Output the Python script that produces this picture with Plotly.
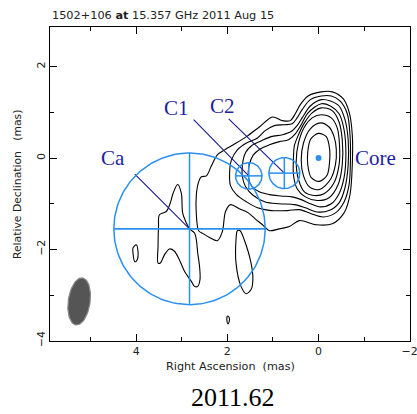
import numpy as np
import plotly.graph_objects as go

# ---- contour polylines: (RA offset, Dec offset) in mas ----
lev1 = [(-0.06, 1.45), (-0.30, 1.45), (-0.54, 1.30), (-0.67, 1.01), (-0.74, 0.51), (-0.74, -0.15),
        (-0.69, -0.80), (-0.56, -1.20), (-0.30, -1.44), (0.05, -1.46), (0.42, -1.37), (0.64, -1.50),
        (0.86, -1.55), (1.08, -1.59), (1.23, -1.46), (1.39, -1.33), (1.54, -1.20), (1.74, -1.11),
        (1.93, -1.02), (2.04, -1.17), (2.11, -1.61), (2.22, -1.81), (2.39, -1.74), (2.54, -1.65),
        (2.63, -1.59), (2.68, -1.24), (2.68, -0.80), (2.63, -0.52), (2.57, -0.41), (2.46, -0.39),
        (2.35, -0.17), (2.22, 0.07), (2.06, 0.18), (1.91, 0.27), (1.58, 0.47), (1.30, 0.68),
        (1.01, 0.90), (0.79, 0.82), (0.62, 0.82), (0.51, 0.97), (0.40, 1.17), (0.23, 1.36), (-0.06, 1.45)]
lev2 = [(-0.06, 1.36), (-0.28, 1.36), (-0.47, 1.25), (-0.63, 0.97), (-0.69, 0.51), (-0.70, -0.04),
        (-0.67, -0.58), (-0.56, -0.96), (-0.37, -1.20), (-0.10, -1.29), (0.16, -1.22), (0.42, -1.13),
        (0.68, -1.15), (1.04, -1.15), (1.34, -1.09), (1.58, -0.96), (1.80, -0.80), (1.93, -0.61),
        (1.95, -0.30), (1.91, -0.04), (1.78, 0.18), (1.58, 0.33), (1.34, 0.44), (1.17, 0.60),
        (0.97, 0.71), (0.75, 0.73), (0.58, 0.75), (0.47, 0.88), (0.36, 1.06), (0.18, 1.28), (-0.06, 1.36)]
lev3 = [(-0.06, 1.28), (-0.26, 1.25), (-0.45, 1.14), (-0.58, 0.84), (-0.65, 0.40), (-0.65, -0.15),
        (-0.58, -0.65), (-0.45, -0.98), (-0.23, -1.15), (0.03, -1.18), (0.29, -1.09), (0.53, -1.02),
        (0.86, -1.00), (1.17, -0.96), (1.43, -0.82), (1.60, -0.63), (1.67, -0.41), (1.67, -0.15),
        (1.60, 0.12), (1.47, 0.27), (1.25, 0.38), (1.04, 0.47), (0.79, 0.51), (0.60, 0.58),
        (0.47, 0.71), (0.36, 0.88), (0.18, 1.14), (-0.06, 1.28)]
lev4 = [(-0.06, 1.19), (-0.26, 1.14), (-0.45, 0.97), (-0.56, 0.62), (-0.60, 0.07), (-0.56, -0.43),
        (-0.45, -0.78), (-0.28, -1.00), (-0.04, -1.07), (0.18, -1.00), (0.38, -0.91), (0.58, -0.85),
        (0.82, -0.83), (1.08, -0.80), (1.30, -0.74), (1.47, -0.61), (1.54, -0.41), (1.52, -0.15),
        (1.43, 0.07), (1.28, 0.20), (1.08, 0.29), (0.86, 0.36), (0.66, 0.40), (0.51, 0.53),
        (0.38, 0.73), (0.23, 0.99), (-0.06, 1.19)]
lev5 = [(-0.06, 1.10), (-0.30, 1.04), (-0.45, 0.79), (-0.52, 0.40), (-0.52, -0.15), (-0.43, -0.58),
        (-0.23, -0.87), (0.03, -0.93), (0.29, -0.85), (0.47, -0.67), (0.55, -0.37), (0.55, 0.01),
        (0.53, 0.27), (0.44, 0.51), (0.31, 0.77), (0.14, 0.99), (-0.06, 1.10)]
lev6 = [(-0.06, 0.95), (-0.28, 0.88), (-0.41, 0.66), (-0.46, 0.29), (-0.45, -0.15), (-0.34, -0.54),
        (-0.12, -0.78), (0.09, -0.82), (0.31, -0.74), (0.44, -0.47), (0.49, -0.08), (0.44, 0.33),
        (0.31, 0.68), (0.14, 0.88), (-0.06, 0.95)]
lev7 = [(-0.04, 0.77), (-0.23, 0.68), (-0.34, 0.47), (-0.39, 0.18), (-0.37, -0.15), (-0.26, -0.47),
        (-0.02, -0.69), (0.20, -0.63), (0.33, -0.39), (0.38, -0.04), (0.33, 0.33), (0.18, 0.64),
        (-0.04, 0.77)]
lev8 = [(0.00, 0.54), (-0.17, 0.47), (-0.245, 0.18), (-0.245, -0.04), (-0.19, -0.37), (-0.02, -0.51),
        (0.16, -0.43), (0.236, -0.15), (0.236, 0.14), (0.17, 0.42), (0.00, 0.54)]
island_a = [(3.09, -0.58), (3.01, -0.77), (2.98, -1.20), (2.90, -1.42), (2.83, -1.55), (2.72, -1.64),
            (2.68, -1.79), (2.65, -2.08), (2.61, -2.37), (2.60, -2.66), (2.65, -2.81), (2.72, -2.81),
            (2.79, -2.70), (2.94, -2.48), (3.05, -2.23), (3.16, -2.04), (3.27, -1.99), (3.38, -2.12),
            (3.47, -2.30), (3.52, -2.30), (3.52, -1.93), (3.51, -1.50), (3.49, -1.24), (3.34, -1.17),
            (3.25, -0.98), (3.19, -0.77), (3.09, -0.58)]
island_b = [(1.78, -1.59), (1.81, -1.79), (1.81, -2.30), (1.70, -2.81), (1.59, -2.97), (1.48, -2.88),
            (1.44, -2.66), (1.48, -2.30), (1.63, -1.79), (1.72, -1.59), (1.78, -1.59)]
island_c = [(4.07, -1.97), (4.00, -1.90), (3.96, -2.04), (3.98, -2.23), (4.03, -2.27), (4.07, -2.08),
            (4.07, -1.97)]
island_d = [(2.00, -3.46), (1.96, -3.49), (1.96, -3.58), (1.99, -3.63), (2.01, -3.56), (2.01, -3.49),
            (2.00, -3.46)]
contours = [lev1, lev2, lev3, lev4, lev5, lev6, lev7, lev8, island_a, island_b, island_c, island_d]

# ---- model-fit components ----
comp_names = ["Ca", "C1", "C2"]
comp_ra = [2.83, 1.53, 0.75]
comp_dec = [-1.55, -0.39, -0.33]
comp_radius = [1.66, 0.29, 0.34]
leader_ra = [4.03, 2.74, 1.97]
leader_dec = [-0.35, 0.84, 0.86]
label_text = ["Ca", "C1", "C2", "Core"]
label_ra = [4.51, 3.11, 2.11, -1.24]
label_dec = [0.0, 1.10, 1.14, 0.0]
core_ra, core_dec = [0.0], [0.0]

# ---- restoring beam ----
beam_ra, beam_dec = 5.25, -3.14
beam_major, beam_minor, beam_pa = 0.52, 0.24, -8.0

x_range = [5.89, -2.006]
y_range = [-4.006, 2.87]
epoch = "2011.62"
title = "1502+106 <b>at</b> 15.357 GHz 2011 Aug 15"

CIRC = "#2b8ff0"
NAVY = "#1a1a8c"
LABEL = "#1e1ea2"

fig = go.Figure()

# beam
t = np.linspace(0, 2 * np.pi, 90)
th = np.radians(beam_pa)
bx = beam_ra + beam_major * np.cos(t) * np.sin(th) + beam_minor * np.sin(t) * np.cos(th)
by = beam_dec + beam_major * np.cos(t) * np.cos(th) - beam_minor * np.sin(t) * np.sin(th)
fig.add_trace(go.Scatter(x=bx, y=by, mode="lines", fill="toself", fillcolor="#555555",
                         line=dict(color="#8a8a8a", width=1.2), hoverinfo="skip"))

# contours
for c in contours:
    xs, ys = zip(*c)
    fig.add_trace(go.Scatter(x=xs, y=ys, mode="lines",
                             line=dict(color="black", width=1.1, shape="spline", smoothing=0.9),
                             hoverinfo="skip"))

# leader lines
for i in range(len(comp_names)):
    fig.add_trace(go.Scatter(x=[leader_ra[i], comp_ra[i]], y=[leader_dec[i], comp_dec[i]], mode="lines",
                             line=dict(color=NAVY, width=1.1), hoverinfo="skip"))

# component circles with crosses
tc = np.linspace(0, 2 * np.pi, 180)
for i in range(len(comp_names)):
    r = comp_radius[i]
    fig.add_trace(go.Scatter(x=comp_ra[i] + r * np.cos(tc), y=comp_dec[i] + r * np.sin(tc), mode="lines",
                             line=dict(color=CIRC, width=1.5), hoverinfo="skip"))
    fig.add_trace(go.Scatter(x=[comp_ra[i] - r, comp_ra[i] + r], y=[comp_dec[i], comp_dec[i]], mode="lines",
                             line=dict(color=CIRC, width=1.8 if i == 0 else 1.5), hoverinfo="skip"))
    fig.add_trace(go.Scatter(x=[comp_ra[i], comp_ra[i]], y=[comp_dec[i] - r, comp_dec[i] + r], mode="lines",
                             line=dict(color=CIRC, width=1.5), hoverinfo="skip"))

# core
fig.add_trace(go.Scatter(x=core_ra, y=core_dec, mode="markers",
                         marker=dict(color=CIRC, size=6, line=dict(width=0)), hoverinfo="skip"))

# labels
for txt, lx, ly in zip(label_text, label_ra, label_dec):
    fig.add_annotation(x=lx, y=ly, text=txt, showarrow=False, xanchor="center", yanchor="middle",
                       font=dict(family="Liberation Serif", size=21, color=LABEL))

FONT = "DejaVu Sans"
axis_common = dict(showgrid=False, zeroline=False, showline=True, linecolor="black", linewidth=1,
                   mirror="allticks", ticks="inside", ticklen=7, tickcolor="black", tickwidth=1,
                   tickfont=dict(family=FONT, size=11, color="#222"), dtick=2,
                   ticklabeloverflow="allow", automargin=False,
                   minor=dict(dtick=1, ticks="inside", ticklen=4, tickcolor="black", showgrid=False))
fig.update_xaxes(range=x_range, tick0=0, **axis_common)
fig.update_yaxes(range=y_range, tick0=0, tickangle=-90, **axis_common)

fig.add_annotation(xref="paper", yref="paper", x=0.0, y=1.038, text=title, showarrow=False,
                   xanchor="left", yanchor="middle", font=dict(family=FONT, size=11.3, color="#222"))
fig.add_annotation(xref="paper", yref="paper", x=0.5, y=-0.081, text="Right Ascension  (mas)",
                   showarrow=False, xanchor="center", yanchor="middle",
                   font=dict(family=FONT, size=11.2, color="#222"))
fig.add_annotation(xref="paper", yref="paper", x=-0.0915, y=0.5, text="Relative Declination   (mas)",
                   showarrow=False, xanchor="center", yanchor="middle", textangle=-90,
                   font=dict(family=FONT, size=10.8, color="#222"))
fig.add_annotation(xref="paper", yref="paper", x=0.508, y=-0.179, text=epoch, showarrow=False,
                   xanchor="center", yanchor="middle",
                   font=dict(family="Liberation Serif", size=26, color="black"))

fig.update_layout(width=417, height=414, margin=dict(l=50, r=6.5, t=27, b=73.3, pad=0, autoexpand=False),
                  paper_bgcolor="white", plot_bgcolor="white", showlegend=False)

fig.write_html("out.html")
